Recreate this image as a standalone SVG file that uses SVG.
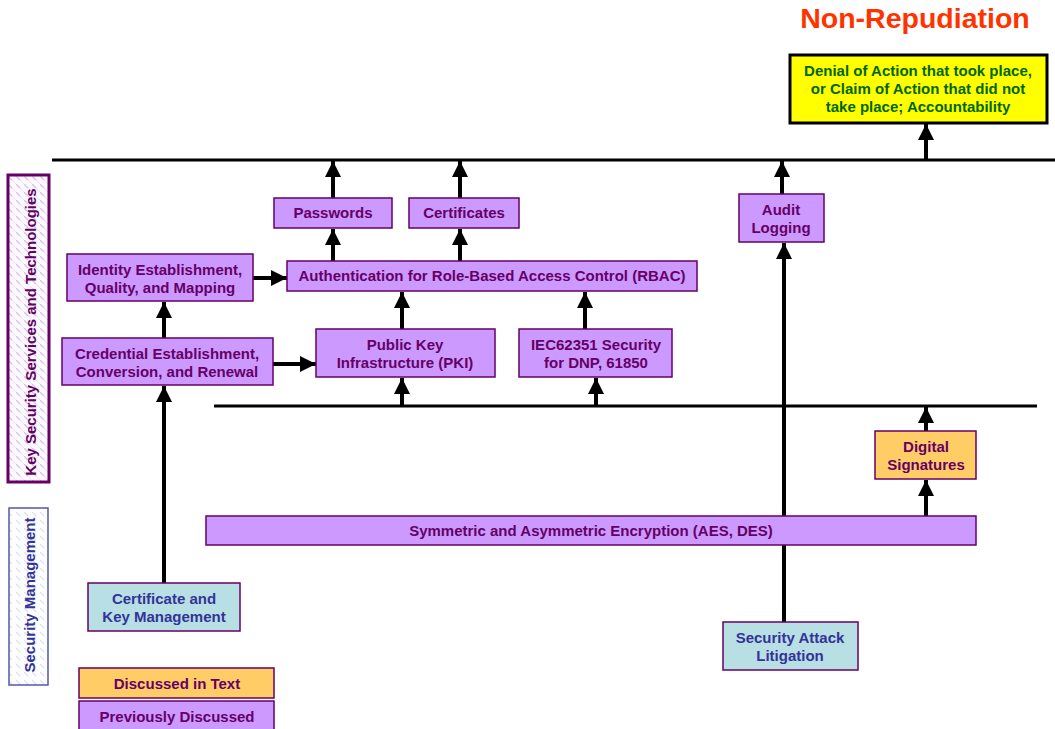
<svg xmlns="http://www.w3.org/2000/svg" width="1055" height="729" viewBox="0 0 1055 729">
  <style>
    .box { fill: #CC99FF; stroke: #660066; stroke-width: 1.5; }
    .org { fill: #FFCC66; stroke: #660066; stroke-width: 1.5; }
    .mgmt { fill: #B8DFE3; stroke: #660066; stroke-width: 1.5; }
    .t { font-family: "Liberation Sans", Arial, sans-serif; font-weight: bold; font-size: 15px; fill: #660066; text-anchor: middle; }
    .tb { fill: #333399; }
    .tg { fill: #006600; }
    .bar { fill: none; stroke: #000; stroke-width: 3; }
    .wire { fill: none; stroke: #000; stroke-width: 4; }
  </style>
  <defs>
    <marker id="ah" viewBox="0 0 10 10" refX="10" refY="5" markerWidth="4" markerHeight="4" orient="auto" markerUnits="strokeWidth">
      <path d="M0,0 L10,5 L0,10 z" fill="#000"/>
    </marker>
    <pattern id="hatch" width="8" height="8" patternUnits="userSpaceOnUse">
      <rect width="8" height="8" fill="#FCFAFE"/>
      <path d="M0,0 L4,4" stroke="#D6C4E6" stroke-width="1.3"/>
      <path d="M4,4 L8,8" stroke="#E8E0F0" stroke-width="1"/>
    </pattern>
    <pattern id="hatch2" width="8" height="8" patternUnits="userSpaceOnUse">
      <rect width="8" height="8" fill="#FCFDFE"/>
      <path d="M0,0 L4,4" stroke="#DDE2E8" stroke-width="1.2"/>
    </pattern>
  </defs>

  <!-- title -->
  <text x="915" y="28" font-family="'Liberation Sans', Arial, sans-serif" font-weight="bold" font-size="28.5" fill="#FF3300" text-anchor="middle">Non-Repudiation</text>

  <!-- side bands -->
  <g id="band-services">
    <rect x="8" y="175" width="41" height="307" fill="url(#hatch)" stroke="#660066" stroke-width="3"/>
    <text transform="translate(36,332) rotate(-90)" class="t" font-size="16">Key Security Services and Technologies</text>
  </g>
  <g id="band-management">
    <rect x="9" y="508" width="39" height="177" fill="url(#hatch2)" stroke="#5555AA" stroke-width="1.5"/>
    <text transform="translate(35,595) rotate(-90)" class="t tb" font-size="16">Security Management</text>
  </g>

  <!-- connectors -->
  <g id="connectors">
    <line class="bar" x1="52" y1="160" x2="1055" y2="160"/>
    <line class="bar" x1="214" y1="406" x2="1037" y2="406" stroke-width="2.5"/>
    <line class="wire" x1="926" y1="160" x2="926" y2="124" marker-end="url(#ah)"/>
    <line class="wire" x1="333" y1="198" x2="333" y2="161" marker-end="url(#ah)"/>
    <line class="wire" x1="460" y1="198" x2="460" y2="161" marker-end="url(#ah)"/>
    <line class="wire" x1="782" y1="194" x2="782" y2="161" marker-end="url(#ah)"/>
    <line class="wire" x1="333" y1="261" x2="333" y2="229" marker-end="url(#ah)"/>
    <line class="wire" x1="460" y1="261" x2="460" y2="229" marker-end="url(#ah)"/>
    <line class="wire" x1="253" y1="278" x2="287" y2="278" marker-end="url(#ah)"/>
    <line class="wire" x1="164" y1="338" x2="164" y2="302" marker-end="url(#ah)"/>
    <line class="wire" x1="273" y1="364" x2="316" y2="364" marker-end="url(#ah)"/>
    <line class="wire" x1="402" y1="329" x2="402" y2="292" marker-end="url(#ah)"/>
    <line class="wire" x1="585" y1="329" x2="585" y2="292" marker-end="url(#ah)"/>
    <line class="wire" x1="402" y1="406" x2="402" y2="378" marker-end="url(#ah)"/>
    <line class="wire" x1="596" y1="406" x2="596" y2="378" marker-end="url(#ah)"/>
    <line class="wire" x1="164" y1="583" x2="164" y2="386" marker-end="url(#ah)"/>
    <line class="wire" x1="926" y1="516" x2="926" y2="480" marker-end="url(#ah)"/>
    <line class="wire" x1="926" y1="431" x2="926" y2="407" marker-end="url(#ah)"/>
    <line class="wire" x1="784" y1="622" x2="784" y2="243" marker-end="url(#ah)"/>
  </g>

  <!-- nodes -->
  <g id="accountability">
    <rect x="790" y="55" width="257" height="68" fill="#FFFF00" stroke="#000" stroke-width="3"/>
    <text class="t tg" x="918" y="76">Denial of Action that took place,</text>
    <text class="t tg" x="918" y="94">or Claim of Action that did not</text>
    <text class="t tg" x="918" y="112">take place; Accountability</text>
  </g>
  <g id="passwords">
    <rect class="box" x="274" y="198" width="118" height="30"/>
    <text class="t" x="333" y="218">Passwords</text>
  </g>
  <g id="certificates">
    <rect class="box" x="409" y="198" width="110" height="30"/>
    <text class="t" x="464" y="218">Certificates</text>
  </g>
  <g id="audit-logging">
    <rect class="box" x="739" y="194" width="85" height="48"/>
    <text class="t" x="781" y="215">Audit</text>
    <text class="t" x="781" y="233">Logging</text>
  </g>
  <g id="rbac">
    <rect class="box" x="287" y="261" width="410" height="30"/>
    <text class="t" x="492" y="281">Authentication for Role-Based Access Control (RBAC)</text>
  </g>
  <g id="identity">
    <rect class="box" x="67" y="254" width="186" height="47"/>
    <text class="t" x="160" y="275">Identity Establishment,</text>
    <text class="t" x="160" y="293">Quality, and Mapping</text>
  </g>
  <g id="credential">
    <rect class="box" x="62" y="338" width="211" height="47"/>
    <text class="t" x="167" y="359">Credential Establishment,</text>
    <text class="t" x="167" y="377">Conversion, and Renewal</text>
  </g>
  <g id="pki">
    <rect class="box" x="316" y="329" width="179" height="48"/>
    <text class="t" x="405" y="350">Public Key</text>
    <text class="t" x="405" y="368">Infrastructure (PKI)</text>
  </g>
  <g id="iec62351">
    <rect class="box" x="519" y="329" width="153" height="48"/>
    <text class="t" x="596" y="350">IEC62351 Security</text>
    <text class="t" x="596" y="368">for DNP, 61850</text>
  </g>
  <g id="digital-signatures">
    <rect class="org" x="875" y="431" width="101" height="48"/>
    <text class="t" x="926" y="452">Digital</text>
    <text class="t" x="926" y="470">Signatures</text>
  </g>
  <g id="encryption">
    <rect class="box" x="206" y="516" width="770" height="29"/>
    <text class="t" x="591" y="536">Symmetric and Asymmetric Encryption (AES, DES)</text>
  </g>
  <g id="cert-key-mgmt">
    <rect class="mgmt" x="88" y="583" width="152" height="48"/>
    <text class="t tb" x="164" y="604">Certificate and</text>
    <text class="t tb" x="164" y="622">Key Management</text>
  </g>
  <g id="attack-litigation">
    <rect class="mgmt" x="723" y="622" width="135" height="48"/>
    <text class="t tb" x="790" y="643">Security Attack</text>
    <text class="t tb" x="790" y="661">Litigation</text>
  </g>

  <!-- legend -->
  <g id="legend-text">
    <rect class="org" x="79" y="668" width="195" height="30"/>
    <text class="t" x="177" y="689">Discussed in Text</text>
  </g>
  <g id="legend-previous">
    <rect class="box" x="79" y="701" width="195" height="32"/>
    <text class="t" x="177" y="722">Previously Discussed</text>
  </g>
</svg>
